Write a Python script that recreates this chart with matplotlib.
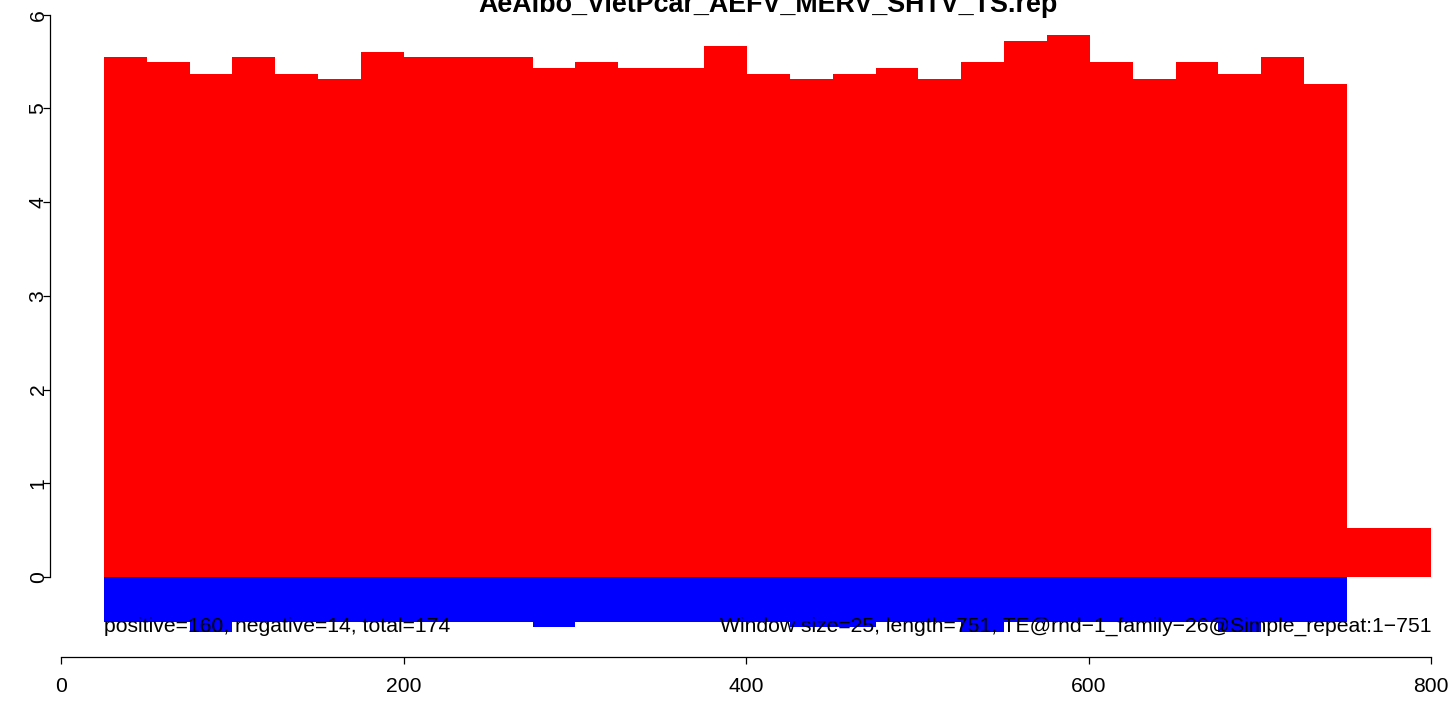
import matplotlib
matplotlib.use("Agg")
import matplotlib.pyplot as plt
import numpy as np

plt.rcParams['font.family'] = ['Liberation Sans', 'DejaVu Sans']

title = "AeAlbo_VietPcar_AEFV_MERV_SHTV_TS.rep"
left_note = "positive=160, negative=14, total=174"
right_note = "Window size=25, length=751, TE@rnd\u22121_family\u221226@Simple_repeat:1\u2212751"

# window bins (29 windows between 25 and 751)
bin_start = 25
bin_end = 751
n_bins = 29
pos_values = [5.55, 5.49, 5.37, 5.55, 5.37, 5.31, 5.60, 5.55, 5.55, 5.55,
              5.43, 5.49, 5.43, 5.43, 5.67, 5.37, 5.31, 5.37, 5.43, 5.31,
              5.49, 5.72, 5.78, 5.49, 5.31, 5.49, 5.37, 5.55, 5.26]
neg_values = [-0.475, -0.475, -0.59, -0.475, -0.475, -0.475, -0.475, -0.475, -0.475, -0.475,
              -0.53, -0.475, -0.475, -0.475, -0.475, -0.475, -0.53, -0.53, -0.475, -0.475,
              -0.59, -0.475, -0.475, -0.475, -0.475, -0.475, -0.59, -0.475, -0.475]
tail_start = 751
tail_end = 800
tail_value = 0.52

x_ticks = [0, 200, 400, 600, 800]
y_ticks = [0, 1, 2, 3, 4, 5, 6]

W, H = 1452, 707
fig = plt.figure(figsize=(W / 100, H / 100), dpi=100)
ax = fig.add_axes([0, 0, 1, 1])
ax.set_facecolor('white')

edges = np.linspace(bin_start, bin_end, n_bins + 1)
widths = np.diff(edges)
ax.bar(edges[:-1], pos_values, width=widths, align='edge', color='#ff0000', linewidth=0)
ax.bar(edges[:-1], neg_values, width=widths, align='edge', color='#0000ff', linewidth=0)
ax.bar([tail_start], [tail_value], width=tail_end - tail_start, align='edge', color='#ff0000', linewidth=0)

# pixel mapping: x=0 -> 61px, x=800 -> 1431px ; y=0 -> 577px, y=6 -> 14.7px
sx = (1431 - 61) / 800.0
sy = (577 - 14.7) / 6.0
ax.set_xlim(-61 / sx, (W - 61) / sx)
ax.set_ylim(-(H - 577) / sy, 577 / sy)

for s in ['top', 'right']:
    ax.spines[s].set_visible(False)
ax.spines['left'].set_position(('data', (50 - 61) / sx))
ax.spines['left'].set_bounds(0, 6)
ax.spines['bottom'].set_position(('data', -(657 - 577) / sy))
ax.spines['bottom'].set_bounds(0, 800)
for s in ['left', 'bottom']:
    ax.spines[s].set_linewidth(0.9)

ax.set_xticks(x_ticks)
ax.set_xticklabels([str(v) for v in x_ticks])
ax.set_yticks(y_ticks)
ax.set_yticklabels([str(v) for v in y_ticks])
ax.tick_params(axis='both', direction='out', length=5.2, width=0.9, labelsize=15.2, colors='black')
ax.tick_params(axis='x', pad=9.0)
ax.tick_params(axis='y', pad=-3.5)
for lab in ax.get_yticklabels():
    lab.set_rotation(90)
    lab.set_va('center')
    lab.set_ha('right')

fs = 15.25
ax.text(bin_start, -(632 - 577) / sy, left_note, ha='left', va='baseline', fontsize=fs, color='black')
ax.text(tail_end, -(632 - 577) / sy, right_note, ha='right', va='baseline', fontsize=fs, color='black')

fig.text(768 / W, 1 - 12.5 / H, title, ha='center', va='baseline', fontsize=19.4, fontweight='bold')

fig.savefig("out.png", dpi=100, facecolor='white')
